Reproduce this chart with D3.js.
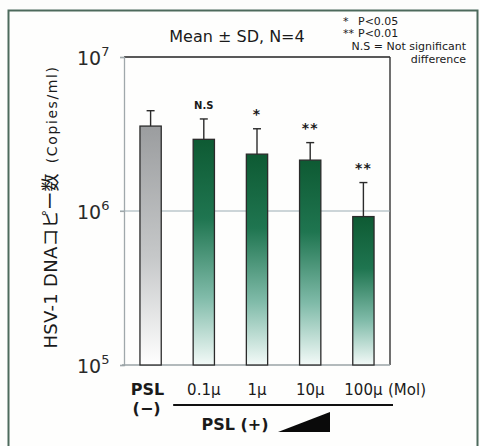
<!DOCTYPE html>
<html>
<head>
<meta charset="utf-8">
<script src="https://cdn.jsdelivr.net/npm/d3@7"></script>
<style>
  html, body { margin: 0; padding: 0; background: #fdfdfc; }
  svg { display: block; }
  text { font-family: "DejaVu Sans", "Noto Sans CJK JP", sans-serif; fill: #1a1a1a; }
</style>
</head>
<body>
<svg id="chart" width="480" height="446"></svg>
<script>
// ---- data ----
const categories = ["PSL(−)", "0.1μ", "1μ", "10μ", "100μ"];
const means      = [3.56e6, 2.92e6, 2.34e6, 2.14e6, 9.2e5];
const sds        = [0.92e6, 1.04e6, 1.08e6, 0.64e6, 0.61e6];
const signif     = ["", "N.S", "*", "**", "**"];
const yTickValues = [1e5, 1e6, 1e7];
const yTickExponents = ["5", "6", "7"];
const titleText = "Mean ± SD, N=4";
const legendSymbols = ["*", "**"];
const legendTexts = ["P<0.05", "P<0.01"];
const legendNote = ["N.S = Not significant", "difference"];
const yTitleMain = "HSV-1 DNAコピー数";
const yTitleUnit = "(Copies/ml)";
const unitLabel = "(Mol)";
const groupLabel = "PSL (+)";

// ---- layout ----
const plot = { left: 124, right: 390, top: 57, bottom: 365 };

const svg = d3.select("#chart");

// gradients
const defs = svg.append("defs");
const gGray = defs.append("linearGradient").attr("id", "gradGray")
  .attr("x1", 0).attr("y1", 0).attr("x2", 0).attr("y2", 1);
gGray.append("stop").attr("offset", "0%").attr("stop-color", "#9b9d9f");
gGray.append("stop").attr("offset", "55%").attr("stop-color", "#c6c8c9");
gGray.append("stop").attr("offset", "100%").attr("stop-color", "#ffffff");

const gGreen = defs.append("linearGradient").attr("id", "gradGreen")
  .attr("x1", 0).attr("y1", 0).attr("x2", 0).attr("y2", 1);
gGreen.append("stop").attr("offset", "0%").attr("stop-color", "#0e5a33");
gGreen.append("stop").attr("offset", "35%").attr("stop-color", "#1f7550");
gGreen.append("stop").attr("offset", "70%").attr("stop-color", "#80bba9");
gGreen.append("stop").attr("offset", "100%").attr("stop-color", "#f3faf8");

// outer frame
svg.append("rect")
  .attr("x", 8.5).attr("y", 10.5)
  .attr("width", 469).attr("height", 460)
  .attr("fill", "#fefefd")
  .attr("stroke", "#4d6a5c").attr("stroke-width", 2);

// scales
const x = d3.scaleBand()
  .domain(categories)
  .range([plot.left, plot.right])
  .paddingInner(0.6)
  .paddingOuter(0.3);

const y = d3.scaleLog()
  .domain([1e5, 1e7])
  .range([plot.bottom, plot.top]);

// plot box: top & right dark
svg.append("line")
  .attr("x1", plot.left).attr("x2", plot.right)
  .attr("y1", plot.top).attr("y2", plot.top)
  .attr("stroke", "#222").attr("stroke-width", 1.6);
svg.append("line")
  .attr("x1", plot.right).attr("x2", plot.right)
  .attr("y1", plot.top).attr("y2", plot.bottom)
  .attr("stroke", "#333").attr("stroke-width", 1.4);

// gridline at 10^6
svg.append("line")
  .attr("x1", plot.left - 4).attr("x2", plot.right)
  .attr("y1", y(1e6)).attr("y2", y(1e6))
  .attr("stroke", "#9aabb3").attr("stroke-width", 1.2);

// y axis
const yAxis = d3.axisLeft(y).tickValues(yTickValues).tickSize(4).tickFormat(() => "");
const yAxisG = svg.append("g")
  .attr("transform", `translate(${plot.left},0)`)
  .call(yAxis);
yAxisG.select(".domain").attr("stroke", "#a0a8ab").attr("stroke-width", 1.3);
yAxisG.selectAll(".tick line").attr("stroke", "#a0a8ab").attr("stroke-width", 1.2);

yAxisG.selectAll(".tick").each(function(d, i) {
  const t = d3.select(this).append("text")
    .attr("x", -47).attr("y", 7)
    .attr("text-anchor", "start")
    .style("font-size", "19px")
    .style("fill", "#2a2a2a");
  t.append("tspan").text("10");
  t.append("tspan").attr("dy", -9).style("font-size", "13px").text(yTickExponents[i]);
});

// bottom axis line
svg.append("line")
  .attr("x1", plot.left - 2).attr("x2", plot.right)
  .attr("y1", plot.bottom).attr("y2", plot.bottom)
  .attr("stroke", "#9aa3a6").attr("stroke-width", 1.3);

// bars
const data = categories.map((c, i) => ({ c, m: means[i], s: sds[i], sig: signif[i], i }));

svg.append("g").selectAll("rect")
  .data(data).join("rect")
  .attr("x", d => x(d.c))
  .attr("y", d => y(d.m))
  .attr("width", x.bandwidth())
  .attr("height", d => y(1e5) - y(d.m))
  .attr("fill", d => d.i === 0 ? "url(#gradGray)" : "url(#gradGreen)")
  .attr("stroke", "#2b2b2b").attr("stroke-width", 1.3);

// error bars (upper only)
const eb = svg.append("g").selectAll("g").data(data).join("g")
  .attr("stroke", "#2b2b2b").attr("stroke-width", 1.4);
eb.append("line")
  .attr("x1", d => x(d.c) + x.bandwidth() / 2)
  .attr("x2", d => x(d.c) + x.bandwidth() / 2)
  .attr("y1", d => y(d.m))
  .attr("y2", d => y(d.m + d.s));
eb.append("line")
  .attr("x1", d => x(d.c) + x.bandwidth() / 2 - 4)
  .attr("x2", d => x(d.c) + x.bandwidth() / 2 + 4)
  .attr("y1", d => y(d.m + d.s))
  .attr("y2", d => y(d.m + d.s));

// significance marks
svg.append("g").selectAll("text")
  .data(data.filter(d => d.sig)).join("text")
  .attr("x", d => x(d.c) + x.bandwidth() / 2)
  .attr("y", d => y(d.m + d.s) - 10)
  .attr("text-anchor", "middle")
  .style("font-weight", "bold")
  .style("font-size", d => d.sig === "N.S" ? "10px" : "14px")
  .style("letter-spacing", d => d.sig === "N.S" ? "0px" : "1px")
  .text(d => d.sig);

// title
svg.append("text")
  .attr("x", 237).attr("y", 42)
  .attr("text-anchor", "middle")
  .style("font-size", "16px")
  .text(titleText);

// legend
const leg = svg.append("g").style("font-size", "11px");
legendSymbols.forEach((s, i) => {
  leg.append("text").attr("x", 343).attr("y", 25 + i * 12).text(s);
  leg.append("text").attr("x", 358).attr("y", 25 + i * 12).text(legendTexts[i]);
});
leg.append("text").attr("x", 466).attr("y", 50).attr("text-anchor", "end").text(legendNote[0]);
leg.append("text").attr("x", 466).attr("y", 63).attr("text-anchor", "end").text(legendNote[1]);

// y title
const yt = svg.append("text")
  .attr("transform", `translate(57, 207) rotate(-90)`)
  .attr("text-anchor", "middle");
yt.append("tspan").style("font-size", "18px").style("letter-spacing", "0.3px").text(yTitleMain);
yt.append("tspan").attr("dx", 10).style("font-size", "14px").style("letter-spacing", "1.6px").text(yTitleUnit);

// x labels
const xl = svg.append("g");
data.forEach(d => {
  const cx = x(d.c) + x.bandwidth() / 2;
  if (d.i === 0) {
    xl.append("text").attr("x", cx - 3).attr("y", 395)
      .attr("text-anchor", "middle").style("font-weight", "bold").style("font-size", "16px").text("PSL");
    xl.append("text").attr("x", cx - 4).attr("y", 414)
      .attr("text-anchor", "middle").style("font-weight", "bold").style("font-size", "16px").text("(−)");
  } else {
    xl.append("text").attr("x", cx).attr("y", 395)
      .attr("text-anchor", "middle").style("font-size", "15px").text(d.c);
  }
});
xl.append("text").attr("x", 388).attr("y", 395)
  .style("font-size", "15px").text(unitLabel);

// group bracket line
const x1c = x(categories[1]) - 20, x2c = plot.right + 3;
svg.append("line")
  .attr("x1", x1c).attr("x2", x2c)
  .attr("y1", 405).attr("y2", 405)
  .attr("stroke", "#111").attr("stroke-width", 2);
svg.append("text")
  .attr("x", 235).attr("y", 430)
  .attr("text-anchor", "middle")
  .style("font-weight", "bold").style("font-size", "16px")
  .text(groupLabel);

// increasing-dose wedge
svg.append("path")
  .attr("d", d3.line()([[278, 432], [330, 412], [330, 432]]) + "Z")
  .attr("fill", "#0a0a0a");
</script>
</body>
</html>
